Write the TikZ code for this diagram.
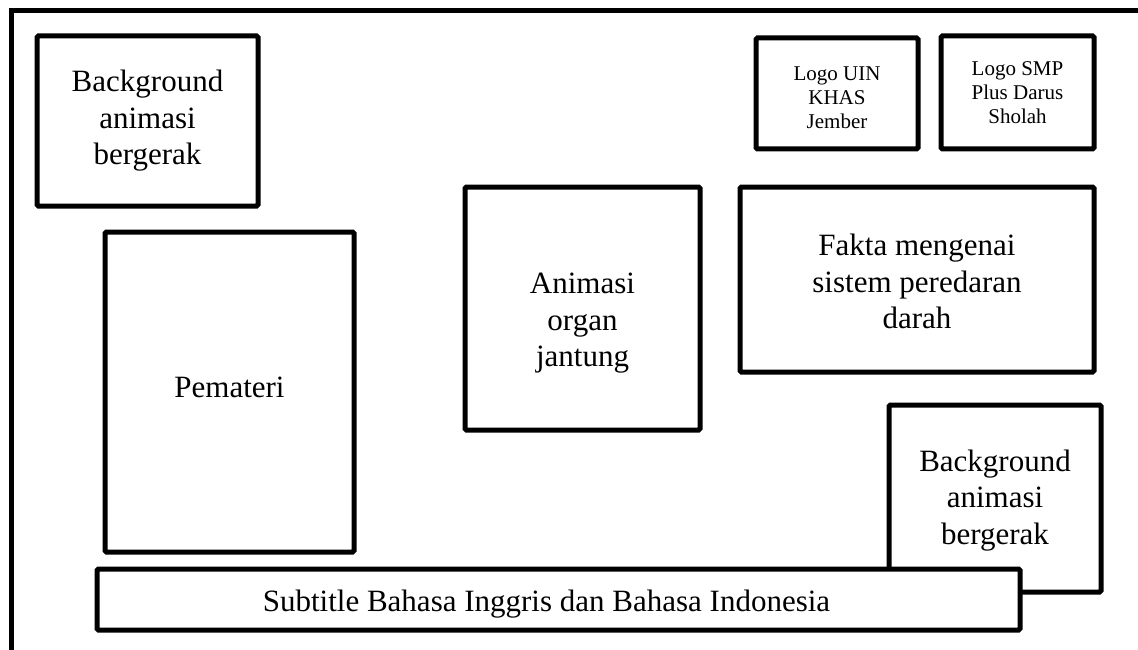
\documentclass[tikz,border=0pt]{standalone}
\usepackage{fontspec}
\setmainfont{Liberation Serif}
\begin{document}
\begin{tikzpicture}[x=1pt,y=-1pt,
  frame/.style={line width=5pt, line cap=butt},
  box/.style={draw, line width=5pt, rounded corners=1.5pt, inner sep=0pt, fill=white},
  big/.style={font=\fontsize{31}{36.5}\selectfont, align=center, inner sep=0pt},
  small/.style={font=\fontsize{21}{24}\selectfont, align=center, inner sep=0pt}]
\useasboundingbox (0,0) rectangle (1138,650);
% outer frame (top and left sides only)
\coordinate (fr) at (1140,11);
\coordinate (fc) at (11,11);
\coordinate (fb) at (11,652);
\draw[frame] (fr) -- ([xshift=-2.5pt]fc) ;
\draw[frame] ([yshift=2.5pt]fc) -- (fb);
% boxes
\node[box, minimum width=221pt, minimum height=170pt] (bg1) at (147.5,121) {};
\node[big] (bg1t) at (bg1.center) {Background\\animasi\\bergerak};
\node[box, minimum width=249pt, minimum height=320pt] (pem) at (229.5,392) {};
\node[big] (pemt) at ([yshift=5pt]pem.center) {Pemateri};
\node[box, minimum width=235pt, minimum height=243pt] (anim) at (582.5,308.5) {};
\node[big] (animt) at ([yshift=-15pt]anim.center) {Animasi\\organ\\jantung};
\node[box, minimum width=354pt, minimum height=185pt] (fakta) at (917,279.5) {};
\node[big] (faktat) at ([yshift=-2pt]fakta.center) {Fakta mengenai\\sistem peredaran\\darah};
\node[box, minimum width=162pt, minimum height=111pt] (uin) at (837,93.5) {};
\node[small] (uint) at ([yshift=-4pt]uin.center) {Logo UIN\\KHAS\\Jember};
\node[box, minimum width=153pt, minimum height=113pt] (smp) at (1017.5,92.5) {};
\node[small] (smpt) at (smp.center) {Logo SMP\\Plus Darus\\Sholah};
\node[box, minimum width=212pt, minimum height=187pt] (bg2) at (995,498.5) {};
\node[big] (bg2t) at ([yshift=-2pt]bg2.center) {Background\\animasi\\bergerak};
\node[box, minimum width=923pt, minimum height=61pt] (sub) at (558.5,599.5) {};
\node[big] (subt) at ([xshift=-12pt,yshift=-5pt]sub.center) {Subtitle Bahasa Inggris dan Bahasa Indonesia};
\end{tikzpicture}
\end{document}
